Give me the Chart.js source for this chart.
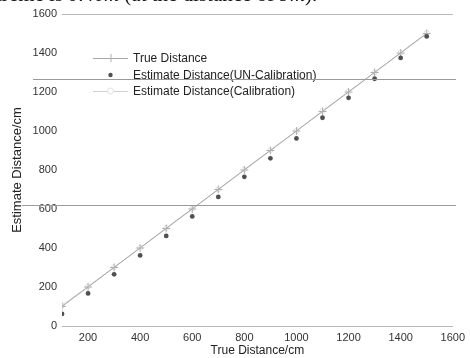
<!DOCTYPE html>
<html>
<head>
<meta charset="utf-8">
<script src="https://cdn.jsdelivr.net/npm/chart.js@4/dist/chart.umd.min.js"></script>
<style>
html,body{margin:0;padding:0;background:#fff;}
#wrap{position:relative;width:470px;height:358px;overflow:hidden;}
#cap{position:absolute;left:-4px;top:-18px;font-family:"Liberation Serif",serif;font-size:21px;color:#111;white-space:nowrap;}
.rule{position:absolute;height:0;border-top:1px solid #9a9a9a;}
canvas{position:absolute;left:0;top:0;}
</style>
</head>
<body>
<div id="wrap">
<canvas id="c" width="470" height="358"></canvas>
<div id="cap">treme is <i>0.4cm</i> (at the distance of <i>9m</i>).</div>
<div class="rule" style="left:33px;top:79px;width:423px;"></div>
<div class="rule" style="left:22px;top:205px;width:434px;"></div>
</div>
<script>
const trueDistance = [100,200,300,400,500,600,700,800,900,1000,1100,1200,1300,1400,1500];
const trueValues   = [100,200,300,400,500,600,700,800,900,1000,1100,1200,1300,1400,1500];
const unCalibration = [62,167,265,362,462,562,662,765,860,962,1068,1170,1268,1375,1485];
const calibration   = [105,203,302,401,503,602,701,803,902,1001,1103,1202,1301,1402,1503];
const xTicks = [200,400,600,800,1000,1200,1400,1600];
const yTicks = [0,200,400,600,800,1000,1200,1400,1600];
const seriesNames = ['True Distance','Estimate Distance(UN-Calibration)','Estimate Distance(Calibration)'];

const pts = (ys) => trueDistance.map((x,i)=>({x:x,y:ys[i]}));
const FONT = '"Liberation Sans", Arial, sans-serif';

const legendPlugin = {
  id:'insideLegend',
  afterDraw(chart){
    const ctx = chart.ctx;
    const rows = [58,75,91];
    const x0 = 93, x1 = 128, tx = 133;
    ctx.save();
    chart.data.datasets.forEach((ds,i)=>{
      const y = rows[i];
      if (ds.showLine !== false) {
        ctx.strokeStyle = ds.borderColor; ctx.lineWidth = 1;
        ctx.beginPath(); ctx.moveTo(x0,y+0.5); ctx.lineTo(x1,y+0.5); ctx.stroke();
      }
      const cx = (x0+x1)/2;
      if (ds.pointStyle === 'cross') {
        ctx.strokeStyle = ds.pointBorderColor; ctx.beginPath();
        ctx.moveTo(cx+0.5,y-4); ctx.lineTo(cx+0.5,y+4); ctx.stroke();
      } else if (ds.pointStyle === 'circle' && ds.showLine === false) {
        ctx.fillStyle = ds.pointBackgroundColor; ctx.beginPath();
        ctx.arc(cx,y,2.2,0,Math.PI*2); ctx.fill();
      } else {
        ctx.strokeStyle = ds.pointBorderColor; ctx.fillStyle='#fff'; ctx.beginPath();
        ctx.arc(cx,y,3,0,Math.PI*2); ctx.fill(); ctx.stroke();
      }
      ctx.fillStyle = '#222'; ctx.font = '12px ' + FONT;
      ctx.textBaseline = 'middle'; ctx.textAlign = 'left';
      ctx.fillText(seriesNames[i], tx, y+0.5);
    });
    ctx.restore();
  }
};

new Chart(document.getElementById('c'), {
  type:'line',
  data:{
    datasets:[
      {label:seriesNames[0], data:pts(trueValues), borderColor:'#a8a8a8', borderWidth:1,
       pointStyle:'cross', pointRadius:4, pointBorderColor:'#b0b0b0', pointBorderWidth:1, pointBackgroundColor:'#b0b0b0', order:2},
      {label:seriesNames[1], data:pts(unCalibration), showLine:false, borderColor:'#555',
       pointStyle:'circle', pointRadius:2.4, pointBackgroundColor:'#505050', pointBorderColor:'#505050', pointBorderWidth:0, order:1},
      {label:seriesNames[2], data:pts(calibration), borderColor:'#d0d0d0', borderWidth:1,
       pointStyle:'circle', pointRadius:2.5, pointBorderColor:'#e0e0e0', pointBackgroundColor:'rgba(255,255,255,0)', pointBorderWidth:1, order:3}
    ]
  },
  options:{
    responsive:false, animation:false,
    layout:{padding:{top:14,right:13,left:0,bottom:0}},
    plugins:{legend:{display:false}, tooltip:{enabled:false}},
    scales:{
      x:{type:'linear', min:100, max:1600,
         afterBuildTicks:(s)=>{s.ticks = xTicks.map(v=>({value:v}));},
         afterFit:(s)=>{s.height = 32;},
         grid:{display:false, drawTicks:false},
         border:{display:true, color:'#b8b8b8', width:1},
         ticks:{padding:5, color:'#333', font:{family:FONT, size:11}, maxRotation:0, callback:(v)=>String(v)},
         title:{display:true, text:'True Distance/cm', color:'#222', padding:{top:0,bottom:0}, font:{family:FONT, size:12}}
      },
      y:{type:'linear', min:0, max:1600,
         afterBuildTicks:(s)=>{s.ticks = yTicks.map(v=>({value:v}));},
         afterFit:(s)=>{s.width = 62;},
         grid:{drawTicks:false, color:(c)=> (c.tick && c.tick.value===1600) ? '#b8b8b8' : 'rgba(0,0,0,0)'},
         border:{display:false},
         ticks:{padding:5, color:'#333', font:{family:FONT, size:11}, callback:(v)=>String(v)},
         title:{display:true, text:'Estimate Distance/cm', color:'#222', padding:{top:10,bottom:0}, font:{family:FONT, size:13}}
      }
    }
  },
  plugins:[legendPlugin]
});
</script>
</body>
</html>
